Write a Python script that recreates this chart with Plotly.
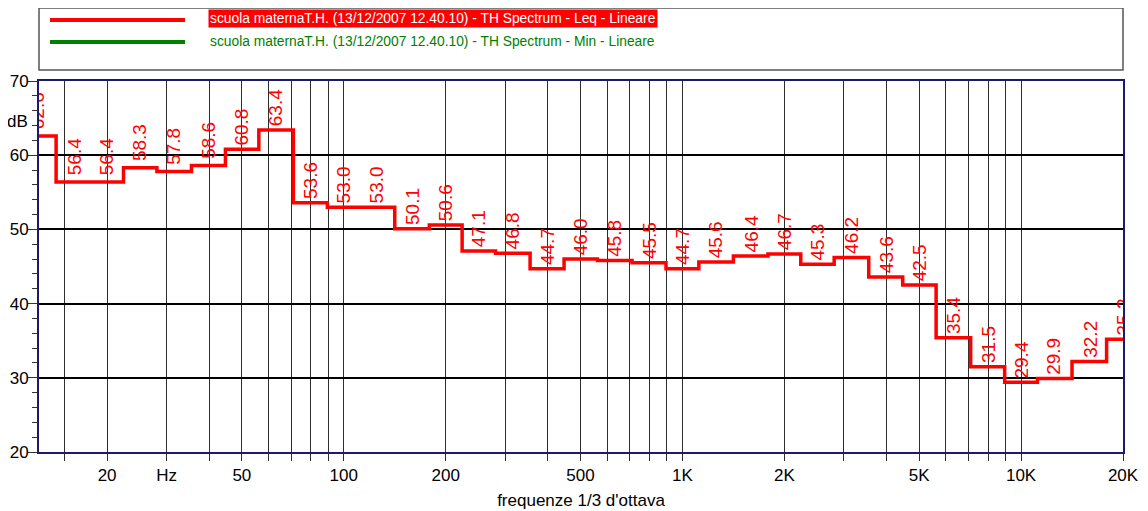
import math
import plotly.graph_objects as go

# ---- data ----
band_freqs = [12.5, 16, 20, 25, 31.5, 40, 50, 63, 80, 100, 125, 160, 200, 250, 315,
              400, 500, 630, 800, 1000, 1250, 1600, 2000, 2500, 3150, 4000, 5000,
              6300, 8000, 10000, 12500, 16000, 20000]
leq_values = [62.6, 56.4, 56.4, 58.3, 57.8, 58.6, 60.8, 63.4, 53.6, 53.0, 53.0, 50.1,
              50.6, 47.1, 46.8, 44.7, 46.0, 45.8, 45.5, 44.7, 45.6, 46.4, 46.7, 45.3,
              46.2, 43.6, 42.5, 35.4, 31.5, 29.4, 29.9, 32.2, 35.2]
grid_freqs = [15, 20, 30, 40, 50, 60, 70, 80, 90, 100, 200, 300, 400, 500, 600, 700,
              800, 900, 1000, 2000, 3000, 4000, 5000, 6000, 7000, 8000, 9000, 10000, 20000]
x_tick_labels = {20: "20", 30: "Hz", 50: "50", 100: "100", 200: "200", 500: "500",
                 1000: "1K", 2000: "2K", 5000: "5K", 10000: "10K", 20000: "20K"}
y_ticks = [20, 30, 40, 50, 60, 70]
leq_name = "scuola maternaT.H. (13/12/2007 12.40.10) - TH Spectrum - Leq - Lineare"
min_name = "scuola maternaT.H. (13/12/2007 12.40.10) - TH Spectrum - Min - Lineare"
x_title = "frequenze 1/3 d'ottava"

# ---- layout geometry (pixels); page has an 8px body margin ----
OFF = 8
W, H = 1148 - OFF, 511 - OFF
ML, MR, MT, MB = 39 - OFF, 25, 81 - OFF, 59
PW, PH = W - ML - MR, H - MT - MB


def px(xp):  # page pixel -> paper
    return (xp - OFF - ML) / PW


def py(yp):
    return (H - MB - (yp - OFF)) / PH


FONT = "Liberation Sans, Arial, sans-serif"

fig = go.Figure()

fig.add_trace(go.Scatter(
    x=band_freqs, y=leq_values, mode="lines",
    line=dict(shape="hvh", color="#ff0000", width=3.5),
    name=leq_name, showlegend=False, hoverinfo="skip",
))

# value labels (rotated, clipped to plot area)
fig.add_trace(go.Bar(
    x=band_freqs, y=[0.5] * len(leq_values), base=leq_values,
    marker=dict(color="rgba(0,0,0,0)", line=dict(width=0)),
    text=[f"{v:.1f}" for v in leq_values], textposition="outside",
    textangle=-90, cliponaxis=True, constraintext="none",
    textfont=dict(color="#ff0000", size=19, family=FONT),
    showlegend=False, hoverinfo="skip",
))

fig.update_layout(
    width=W, height=H,
    margin=dict(l=ML, r=MR, t=MT, b=MB, autoexpand=False),
    paper_bgcolor="white", plot_bgcolor="white",
    showlegend=False,
    font=dict(family=FONT, size=17, color="black"),
    bargap=0.5,
)

fig.update_xaxes(
    type="log", range=[1.1, math.log10(20000)],
    tickmode="array", tickvals=grid_freqs,
    ticktext=[x_tick_labels.get(f, "") for f in grid_freqs],
    showgrid=True, gridcolor="#2e2e2e", gridwidth=1,
    ticks="outside", ticklen=7, tickcolor="#2e2e2e",
    showline=True, linecolor="#1a1a6e", linewidth=2, mirror=True,
    tickfont=dict(size=17, family=FONT, color="black"),
    title=dict(text=x_title, standoff=10, font=dict(size=17, family=FONT)),
    zeroline=False,
)
fig.update_yaxes(
    range=[20, 70], tickmode="array", tickvals=y_ticks,
    showgrid=True, gridcolor="black", gridwidth=1.5,
    ticks="outside", ticklen=9, tickcolor="#333333",
    ticklabelstandoff=-4,
    minor=dict(dtick=2, tick0=0, ticks="outside", ticklen=5, tickcolor="#333333", showgrid=False),
    showline=True, linecolor="#1a1a6e", linewidth=2, mirror=True,
    tickfont=dict(size=17, family=FONT, color="black"),
    zeroline=False,
)

# y unit label
fig.add_annotation(text="dB", xref="paper", yref="y", x=0, y=64.6, xanchor="right",
                   xshift=-9, showarrow=False, font=dict(size=17, family=FONT, color="black"))

# custom legend box
fig.add_shape(type="rect", xref="paper", yref="paper", x0=px(39), x1=px(1123), y0=py(70), y1=py(8),
              line=dict(color="#555555", width=1.5), fillcolor="white")
fig.add_shape(type="line", xref="paper", yref="paper", x0=px(50), x1=px(185), y0=py(20), y1=py(20),
              line=dict(color="#ff0000", width=4))
fig.add_shape(type="line", xref="paper", yref="paper", x0=px(50), x1=px(185), y0=py(42), y1=py(42),
              line=dict(color="#008000", width=4))
fig.add_annotation(text=leq_name, xref="paper", yref="paper", x=px(208), y=py(18),
                   xanchor="left", yanchor="middle", showarrow=False, bgcolor="#ff0000",
                   borderpad=1, font=dict(size=13.8, family=FONT, color="white"))
fig.add_annotation(text=min_name, xref="paper", yref="paper", x=px(208), y=py(41.5),
                   xanchor="left", yanchor="middle", showarrow=False,
                   borderpad=1, font=dict(size=13.8, family=FONT, color="#008000"))

fig.write_html("out.html")
